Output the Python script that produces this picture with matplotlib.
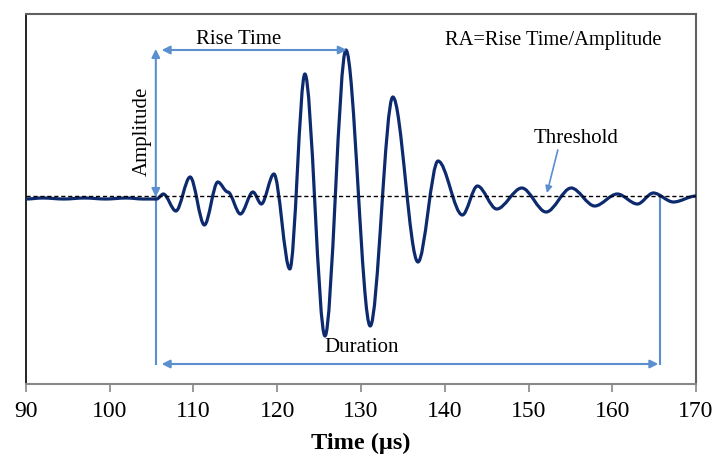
import numpy as np
import matplotlib
matplotlib.use("Agg")
import matplotlib.pyplot as plt
from matplotlib.path import Path
from matplotlib.patches import PathPatch

plt.rcParams['font.family'] = ['Liberation Serif', 'DejaVu Serif']

# Waveform key points (time in us, amplitude in arbitrary units)
t_pts = [90.0, 92.0, 94.5, 97.0, 99.5, 102.0, 104.0, 105.6,
         106.4, 107.9, 109.6, 111.3, 112.9, 114.1, 115.6, 117.1, 118.1, 119.6,
         121.5, 123.3, 125.7, 128.2, 131.1, 133.8, 136.8, 139.2, 142.1, 143.9,
         146.2, 149.2, 152.1, 155.1, 157.9, 160.6, 163.0, 164.9, 167.3, 170.0]
a_pts = [0, 1, 0, 1, 0, 1, 0, 0,
         5, -12, 22, -26, 17, 7, -15, 7, -5, 25,
         -70, 125, -137, 149, -127, 102, -63, 38, -16, 13,
         -10, 11, -13, 11, -7, 5, -5, 6, -3, 3]

threshold = 3
x_ticks = [90, 100, 110, 120, 130, 140, 150, 160, 170]

# Annotation positions
t_start = 105.5
t_end = 165.7
t_peak = 128.3
peak_amp = 149
duration_level = -165

fig = plt.figure(figsize=(7.16, 4.59), dpi=100)
ax = fig.add_axes([0.0363, 0.1634, 0.9358, 0.8061])

# smoothed waveform: horizontal tangents at every read extremum
verts = [(t_pts[0], a_pts[0])]
codes = [Path.MOVETO]
for i in range(1, len(t_pts)):
    t0, a0 = t_pts[i - 1], a_pts[i - 1]
    t1, a1 = t_pts[i], a_pts[i]
    dt = t1 - t0
    verts += [(t0 + dt / 3, a0), (t1 - dt / 3, a1), (t1, a1)]
    codes += [Path.CURVE4] * 3
wave = PathPatch(Path(verts, codes), facecolor='none', edgecolor='#0d2a6e',
                 lw=2.3, zorder=3, capstyle='round', joinstyle='round')
ax.add_patch(wave)

# threshold line
ax.axhline(threshold, color='black', lw=1.0, ls=(0, (3, 2)), zorder=4)

arrow_col = '#5b8fd0'
akw = dict(arrowstyle='<|-|>', color=arrow_col, lw=1.5, mutation_scale=12,
           shrinkA=0, shrinkB=0)

# vertical guides
ax.plot([t_start, t_start], [duration_level, threshold], color=arrow_col, lw=1.5, zorder=2)
ax.plot([t_end, t_end], [duration_level, threshold + 1], color=arrow_col, lw=1.5, zorder=2)

# amplitude arrow
ax.annotate('', xy=(t_start, peak_amp + 1), xytext=(t_start, threshold - 1),
            arrowprops=akw, zorder=5)
ax.text(103.85, 68, 'Amplitude', rotation=90, ha='center', va='center', fontsize=15)

# rise time arrow
ax.annotate('', xy=(t_peak, peak_amp), xytext=(t_start + 0.7, peak_amp),
            arrowprops=akw, zorder=5)
ax.text(115.4, 159, 'Rise Time', ha='center', va='center', fontsize=15)

# duration arrow
ax.annotate('', xy=(t_end - 0.2, duration_level), xytext=(t_start + 0.7, duration_level),
            arrowprops=akw, zorder=5)
ax.text(130.1, -149, 'Duration', ha='center', va='center', fontsize=15)

# threshold label and its pointer
ax.text(155.7, 60, 'Threshold', ha='center', va='center', fontsize=15)
ax.annotate('', xy=(152.2, threshold + 3), xytext=(153.5, 49),
            arrowprops=dict(arrowstyle='-|>', color=arrow_col, lw=1.2,
                            mutation_scale=10, shrinkA=0, shrinkB=0))

ax.text(153.0, 158, 'RA=Rise Time/Amplitude', ha='center', va='center', fontsize=14.8)

ax.set_xlim(90, 170)
ax.set_ylim(-185, 185)
ax.set_xticks(x_ticks)
ax.set_yticks([])
ax.tick_params(axis='x', direction='out', length=6, width=1.2, color='#888888',
               labelsize=17, pad=6)
ax.set_xlabel('Time (µs)', fontsize=17.5, fontweight='bold', labelpad=8)

ax.spines['left'].set_color('black')
ax.spines['left'].set_linewidth(1.2)
for s in ['top', 'right']:
    ax.spines[s].set_color('#606060')
    ax.spines[s].set_linewidth(1.5)
ax.spines['bottom'].set_color('#888888')
ax.spines['bottom'].set_linewidth(1.5)

fig.savefig('out.png', dpi=100)
